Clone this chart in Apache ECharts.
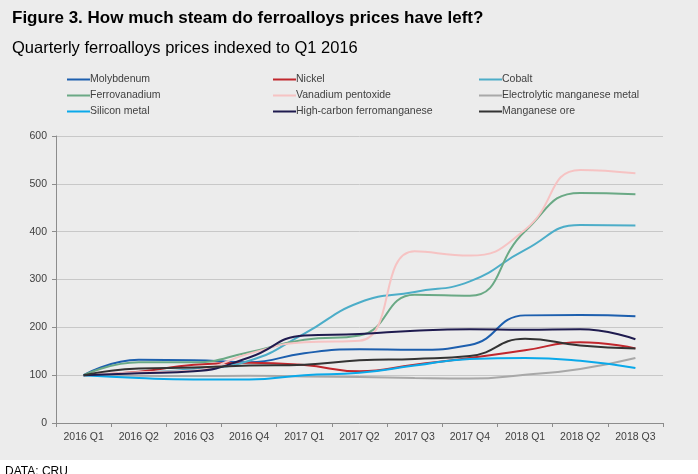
<!DOCTYPE html>
<html>
<head>
<meta charset="utf-8">
<script src="https://cdn.jsdelivr.net/npm/echarts@6/dist/echarts.min.js"></script>
<style>
  html, body { margin: 0; padding: 0; background: #fff; }
  #chart { width: 698px; height: 474px; background: linear-gradient(#ececec 0, #ececec 460px, #fff 460px); }
</style>
</head>
<body>
<div id="chart"></div>
<script>
// Quarterly ferroalloy price indices (Q1 2016 = 100).
const quarters = ["2016 Q1", "2016 Q2", "2016 Q3", "2016 Q4", "2017 Q1", "2017 Q2",
  "2017 Q3", "2017 Q4", "2018 Q1", "2018 Q2", "2018 Q3"];

const molybdenum = [100, 132, 131, 127, 146, 154, 153, 163, 225, 226, 223];
const nickel = [100, 107, 122, 126, 121, 108, 122, 136, 152, 169, 156];
const cobalt = [100, 105, 113, 130, 187, 252, 274, 296, 362, 414, 413];
const ferrovanadium = [100, 127, 127, 148, 174, 183, 268, 266, 401, 481, 478];
const vanadiumPentoxide = [100, 106, 110, 145, 169, 172, 359, 350, 404, 529, 522];
const electrolyticMn = [100, 99, 98, 99, 97, 96, 94, 93, 101, 113, 136];
const siliconMetal = [100, 94, 91, 91, 100, 105, 120, 134, 136, 130, 115];
const highCarbonFeMn = [100, 104, 108, 137, 183, 186, 193, 196, 195, 196, 175];
const manganeseOre = [100, 114, 116, 120, 122, 131, 134, 140, 176, 162, 156];

const yTicks = [0, 100, 200, 300, 400, 500, 600];

const seriesDefs = [
  ["Molybdenum", molybdenum, "#1d5fae"],
  ["Nickel", nickel, "#c1272d"],
  ["Cobalt", cobalt, "#4cadc8"],
  ["Ferrovanadium", ferrovanadium, "#6aa985"],
  ["Vanadium pentoxide", vanadiumPentoxide, "#f6c3c3"],
  ["Electrolytic manganese metal", electrolyticMn, "#a8a8a8"],
  ["Silicon metal", siliconMetal, "#0aa9ea"],
  ["High-carbon ferromanganese", highCarbonFeMn, "#1f1b4f"],
  ["Manganese ore", manganeseOre, "#333333"],
];

const chart = echarts.init(document.getElementById("chart"));
const font = "Liberation Sans, Arial, sans-serif";

// 三列图例,每列竖排三项,图标是一截细线
function legendCol(left, names) {
  return {
    orient: "vertical", left, top: 69, itemGap: 5,
    icon: "rect", itemWidth: 23, itemHeight: 2,
    data: names,
    textStyle: { fontFamily: font, fontSize: 10.5, color: "#404040", padding: [0, 0, 0, -5] },
  };
}

chart.setOption({
  backgroundColor: "transparent",
  animation: false,
  textStyle: { fontFamily: font },
  title: [
    { text: "Figure 3. How much steam do ferroalloys prices have left?", left: 7, top: 5,
      textStyle: { fontFamily: font, fontSize: 17, fontWeight: "bold", color: "#000" } },
    { text: "Quarterly ferroalloys prices indexed to Q1 2016", left: 7, top: 35,
      textStyle: { fontFamily: font, fontSize: 16.5, fontWeight: "normal", color: "#000" } },
    { text: "DATA: CRU", left: 0, top: 461,
      textStyle: { fontFamily: font, fontSize: 12, fontWeight: "normal", color: "#000" } },
  ],
  legend: [
    legendCol(62, ["Molybdenum", "Ferrovanadium", "Silicon metal"]),
    legendCol(268, ["Nickel", "Vanadium pentoxide", "High-carbon ferromanganese"]),
    legendCol(474, ["Cobalt", "Electrolytic manganese metal", "Manganese ore"]),
  ],
  grid: { left: 56, right: 35, top: 136, bottom: 51 },
  xAxis: {
    type: "category", data: quarters, boundaryGap: true,
    axisLine: { lineStyle: { color: "#8c8c8c" } },
    axisTick: { show: true, length: 4, lineStyle: { color: "#8c8c8c" } },
    axisLabel: { fontSize: 10.5, color: "#404040", margin: 9 },
  },
  yAxis: {
    type: "value", min: yTicks[0], max: yTicks[yTicks.length - 1], interval: 100,
    axisLine: { show: true, lineStyle: { color: "#8c8c8c" } },
    axisTick: { show: true, length: 4, lineStyle: { color: "#8c8c8c" } },
    axisLabel: { fontSize: 10.5, color: "#404040", margin: 9 },
    splitLine: { lineStyle: { color: "#c8c8c8" } },
  },
  series: seriesDefs.map(([name, data, color]) => ({
    name, type: "line", data, smooth: true, symbol: "none",
    lineStyle: { width: 2, color }, itemStyle: { color },
  })),
});
</script>
</body>
</html>
